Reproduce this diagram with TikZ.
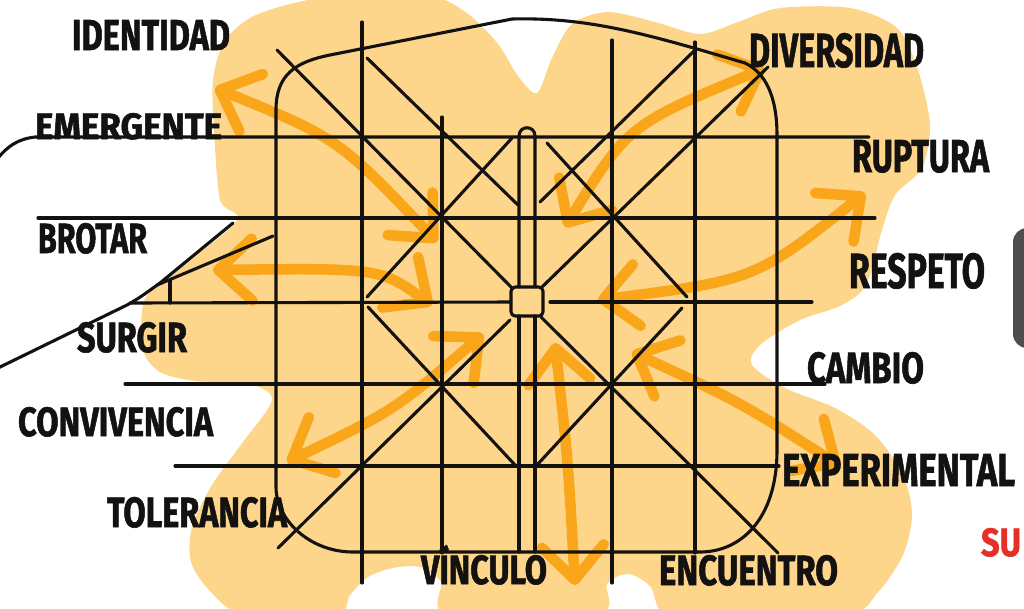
\documentclass[tikz,border=0pt]{standalone}
\usepackage{fontspec}
\usepackage{graphicx}
\setmainfont{Fira Sans}[BoldFeatures={FakeBold=1.5}]
\usetikzlibrary{arrows.meta}
\definecolor{blobc}{RGB}{253,214,140}
\definecolor{arrc}{RGB}{249,166,26}
\definecolor{ink}{RGB}{20,18,16}
\definecolor{redt}{RGB}{228,48,38}
\definecolor{darkg}{RGB}{78,78,78}
\newcommand\fitlab[3]{\resizebox{#1}{#2}{\bfseries #3}}
\begin{document}
\begin{tikzpicture}[x=0.025cm,y=-0.025cm,
  gridline/.style={draw=ink,line width=2.2pt,line cap=round,line join=round},
  arrowstroke/.style={draw=arrc,line width=7.5pt,line cap=round,
    arrows={Straight Barb[length=24pt,width=44pt,round]-Straight Barb[length=24pt,width=44pt,round]}},
  lab/.style={anchor=north west,inner sep=0pt,outer sep=0pt,text=ink}]
\useasboundingbox (0,0) rectangle (1024,608);
\clip (0,0) rectangle (1024,608);
\fill[white] (0,0) rectangle (1024,608);

% background blob
\fill[blobc] plot[smooth cycle, tension=0.5] coordinates {
 (214,130) (213,80) (224,42) (250,18) (290,4) (340,-4) (430,-4) (468,14) (498,44)
 (518,76) (537,93) (552,58) (572,24) (608,12) (655,22) (700,34) (738,22) (780,8)
 (850,8) (897,28) (918,70) (930,125) (922,168) (895,195) (882,230) (866,285)
 (840,306) (800,320) (760,345) (752,365) (785,388) (835,408) (875,435) (903,475)
 (912,515) (903,555) (878,592) (845,615) (700,616) (662,612) (650,586) (628,574)
 (607,584) (598,614) (448,614) (441,582) (420,567) (393,568) (368,577) (350,595)
 (336,614) (243,614) (210,591) (191,562) (192,527) (212,485) (243,442) (272,400)
 (250,384) (195,381) (160,372) (143,350) (143,305) (160,283) (236,222) (220,200)};

% dark shape at right edge
\fill[darkg,rounded corners=0.35cm] (1013,228) rectangle (1070,348);

% orange arrows
\coordinate (a1s) at (215,88);  \coordinate (a1e) at (437,242);
\coordinate (a2s) at (213,270); \coordinate (a2e) at (432,305);
\coordinate (a3s) at (287,462); \coordinate (a3e) at (483,334);
\coordinate (a4s) at (565,227); \coordinate (a4e) at (765,68);
\coordinate (a5s) at (598,300); \coordinate (a5e) at (865,193);
\coordinate (a6s) at (632,352); \coordinate (a6e) at (840,466);
\coordinate (a7s) at (555,343); \coordinate (a7e) at (575,585);
\draw[arrowstroke] (a1s) .. controls (338,138) .. (a1e);
\draw[arrowstroke] (a2s) .. controls (380,268) .. (a2e);
\draw[arrowstroke] (a3s) .. controls (395,410) .. (a3e);
\draw[arrowstroke] (a4s) .. controls (628,125) .. (a4e);
\draw[arrowstroke] (a5s) .. controls (755,280) .. (a5e);
\draw[arrowstroke] (a6s) .. controls (740,402) .. (a6e);
\draw[arrowstroke] (a7s) .. controls (568,460) .. (a7e);

% rounded outline
\draw[gridline] (276,487) -- (276,110) .. controls (276,75) and (295,62) .. (330,55)
  -- (512,19) .. controls (590,17) and (650,35) .. (745,63)
  .. controls (770,75) and (777,105) .. (777,135) -- (777,450)
  .. controls (777,520) and (740,552) .. (700,552) -- (353,552)
  .. controls (310,552) and (276,520) .. (276,487) -- cycle;

% vertical lines
\draw[gridline] (362,22) -- (362,583);
\draw[gridline] (442,117) -- (442,553);
\draw[gridline] (612,40) -- (612,583);
\draw[gridline] (695,42) -- (695,553);
% central bar
\draw[gridline] (519,287) -- (519,136) .. controls (519,125) and (535,125) .. (535,136) -- (535,287);
\draw[gridline,rounded corners=3pt] (511,287) rectangle (543,316);
\draw[gridline] (519,316) -- (519,552);
\draw[gridline] (535,316) -- (535,552);

% horizontal lines
\draw[gridline] (-2,158) .. controls (8,146) and (18,139) .. (35,137) -- (869,137);
\draw[gridline] (38,218) -- (875,218);
\draw[gridline] (130,303) -- (511,302);
\draw[gridline] (550,302) -- (812,302);
\draw[gridline] (125,384) -- (825,384);
\draw[gridline] (175,466) -- (779,466);

% diagonals
\draw[gridline] (277,50) -- (513,289);
\draw[gridline] (541,317) -- (778,553);
\draw[gridline] (367,58) -- (518,205);
\draw[gridline] (547,143) -- (687,297);
\draw[gridline] (368,307) -- (515,465);
\draw[gridline] (512,138) -- (367,297);
\draw[gridline] (540,202) -- (695,50);
\draw[gridline] (542,287) -- (768,67);
\draw[gridline] (510,320) -- (278,548);
\draw[gridline] (682,308) -- (537,465);

% left lines
\draw[gridline] (-2,368) -- (127,305) .. controls (140,298) and (150,290) .. (160,283) -- (233,223);
\draw[gridline] (157,285) -- (273,236);
\draw[gridline] (170,280) -- (170,303);

% labels
\node[lab] (identidad) at (72,20) {\fitlab{3.95cm}{0.75cm}{IDENTIDAD}};
\node[lab] (emergente) at (35,113) {\fitlab{4.675cm}{0.65cm}{EMERGENTE}};
\node[lab] (brotar) at (38,223) {\fitlab{2.725cm}{0.75cm}{BROTAR}};
\node[lab] (surgir) at (77,322) {\fitlab{2.75cm}{0.75cm}{SURGIR}};
\node[lab] (convivencia) at (18,407) {\fitlab{4.875cm}{0.725cm}{CONVIVENCIA}};
\node[lab] (tolerancia) at (107,497) {\fitlab{4.5cm}{0.75cm}{TOLERANCIA}};
\node[lab] (vinculo) at (421,545) {\fitlab{3.15cm}{0.975cm}{VÍNCULO}};
\node[lab] (encuentro) at (659,555) {\fitlab{4.475cm}{0.75cm}{ENCUENTRO}};
\node[lab] (experimental) at (782,454) {\fitlab{5.825cm}{0.8cm}{EXPERIMENTAL}};
\node[lab] (cambio) at (807,352) {\fitlab{2.925cm}{0.775cm}{CAMBIO}};
\node[lab] (respeto) at (849,253) {\fitlab{3.4cm}{0.875cm}{RESPETO}};
\node[lab] (ruptura) at (852,140) {\fitlab{3.425cm}{0.8cm}{RUPTURA}};
\node[lab] (diversidad) at (749,33) {\fitlab{4.375cm}{0.85cm}{DIVERSIDAD}};
\node[lab,text=redt] (sut) at (981,528) {\fitlab{1.0cm}{0.7cm}{SU}};
\end{tikzpicture}
\end{document}
